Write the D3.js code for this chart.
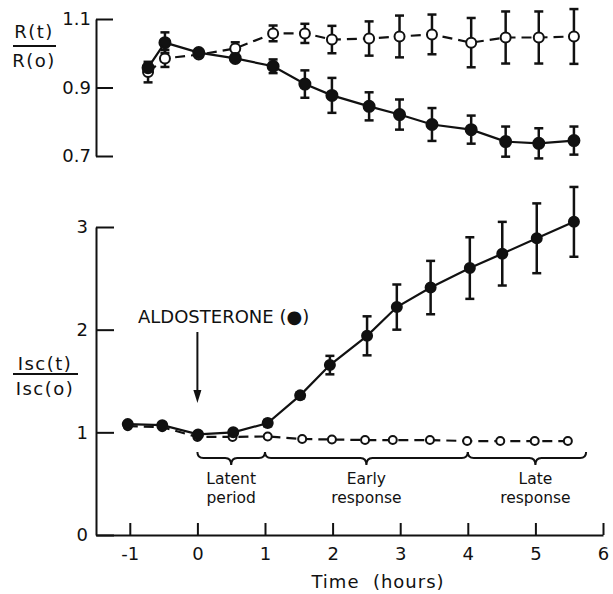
<!DOCTYPE html>
<html>
<head>
<meta charset="utf-8">
<script src="https://cdn.jsdelivr.net/npm/d3@7"></script>
<style>
body { margin: 0; background: #fff; }
svg text { font-family: "DejaVu Sans", sans-serif; fill: #111; }
</style>
</head>
<body>
<svg id="chart"></svg>
<script>
// values, time in hours
var topTimes   = [-0.73, -0.48, 0.02, 0.56, 1.12, 1.59, 1.99, 2.54, 2.99, 3.47, 4.05, 4.56, 5.05, 5.57];
var topAldo    = [0.958, 1.031, 1.002, 0.985, 0.962, 0.910, 0.877, 0.845, 0.821, 0.792, 0.777, 0.742, 0.737, 0.745];
var topAldoErr = [0.012, 0.030, 0.010, 0.010, 0.020, 0.040, 0.051, 0.041, 0.044, 0.048, 0.041, 0.044, 0.044, 0.041];
var topCtrl    = [0.945, 0.985, 0.996, 1.014, 1.058, 1.058, 1.040, 1.043, 1.049, 1.055, 1.031, 1.046, 1.046, 1.049];
var topCtrlErr = [0.030, 0.025, 0.010, 0.018, 0.023, 0.028, 0.040, 0.050, 0.061, 0.058, 0.072, 0.076, 0.076, 0.080];

var botAldoTimes = [-1.03, -0.52, 0.01, 0.53, 1.04, 1.52, 1.96, 2.51, 2.95, 3.45, 4.03, 4.51, 5.02, 5.57];
var botAldo      = [1.08, 1.07, 0.98, 1.00, 1.09, 1.36, 1.655, 1.94, 2.22, 2.41, 2.60, 2.74, 2.89, 3.05];
var botAldoErr   = [0.02, 0.02, 0.02, 0.02, 0.03, 0.03, 0.09, 0.19, 0.22, 0.26, 0.30, 0.31, 0.34, 0.34];
var botCtrlTimes = [-1.03, -0.52, 0.0, 0.52, 1.04, 1.55, 1.99, 2.48, 2.89, 3.44, 3.99, 4.48, 4.99, 5.48];
var botCtrl      = [1.06, 1.05, 0.955, 0.955, 0.96, 0.935, 0.93, 0.925, 0.925, 0.925, 0.915, 0.915, 0.915, 0.915];

var xTicks   = [-1, 0, 1, 2, 3, 4, 5, 6];
var topTicks = [0.7, 0.9, 1.1];
var botTicks = [0, 1, 2, 3];

// response phases drawn as braces under the curves
var phaseStart = [0, 1, 4];
var phaseEnd   = [1, 4, 5.75];
var phaseTip   = [0.5, 2.5, 5];
var phaseWord1 = ["Latent", "Early", "Late"];
var phaseWord2 = ["period", "response", "response"];
var aldoTime = 0;

var w = 613, h = 594;
var svg = d3.select("#chart").attr("width", w).attr("height", h);

var x = d3.scaleLinear().domain([-1.5, 6]).range([96, 603]);
var yTop = d3.scaleLinear().domain([0.7, 1.1]).range([156, 19]);
var yBot = d3.scaleLinear().domain([0, 3]).range([535, 227]);

function zip(xs, ys, es) {
	return xs.map(function(t, i) { return [t, ys[i], es ? es[i] : 0]; });
}

// axes
function styleAxis(g) {
	g.select(".domain").attr("stroke", "#111").attr("stroke-width", 2);
	g.selectAll(".tick line").attr("stroke", "#111").attr("stroke-width", 2);
	g.selectAll(".tick text").attr("font-size", 18).attr("fill", "#111")
	 .attr("font-family", "DejaVu Sans, sans-serif");
}

svg.append("g")
   .attr("transform", "translate(96,0)")
   .call(d3.axisLeft(yTop).tickValues(topTicks).tickSizeInner(-17).tickSizeOuter(0)
           .tickPadding(5).tickFormat(d3.format(".1f")))
   .call(styleAxis);

svg.append("g")
   .attr("transform", "translate(96,0)")
   .call(d3.axisLeft(yBot).tickValues(botTicks).tickSizeInner(-18).tickSizeOuter(0)
           .tickPadding(8).tickFormat(d3.format("d")))
   .call(styleAxis);

// plain hyphen for negative hours, as in the print
svg.append("g")
   .attr("transform", "translate(0,535)")
   .call(d3.axisBottom(x).tickValues(xTicks).tickSizeInner(-12).tickSizeOuter(0)
           .tickPadding(12).tickFormat(function(d) { return String(d); }))
   .call(styleAxis);

// axis titles
svg.append("text").attr("x", 34).attr("y", 38).attr("text-anchor", "middle")
   .attr("font-size", 18).attr("letter-spacing", 1.5).text("R(t)");
svg.append("line").attr("x1", 13).attr("x2", 56).attr("y1", 46).attr("y2", 46)
   .attr("stroke", "#111").attr("stroke-width", 1.8);
svg.append("text").attr("x", 34).attr("y", 67).attr("text-anchor", "middle")
   .attr("font-size", 18).attr("letter-spacing", 1.5).text("R(o)");

svg.append("text").attr("x", 45).attr("y", 370).attr("text-anchor", "middle")
   .attr("font-size", 18).attr("letter-spacing", 1.5).text("Isc(t)");
svg.append("line").attr("x1", 13).attr("x2", 78).attr("y1", 374).attr("y2", 374)
   .attr("stroke", "#111").attr("stroke-width", 1.8);
svg.append("text").attr("x", 45).attr("y", 395).attr("text-anchor", "middle")
   .attr("font-size", 18).attr("letter-spacing", 1.5).text("Isc(o)");

svg.append("text").attr("x", 378).attr("y", 588).attr("text-anchor", "middle")
   .attr("font-size", 18).attr("letter-spacing", 1).attr("xml:space", "preserve")
   .text("Time  (hours)");

// one series: line, error bars, markers
function drawSeries(pts, yScale, filled, dashed, r) {
	var line = d3.line()
				 .x(function(d) { return x(d[0]); })
				 .y(function(d) { return yScale(d[1]); });
	svg.append("path")
	   .datum(pts)
	   .attr("d", line)
	   .attr("fill", "none")
	   .attr("stroke", "#111")
	   .attr("stroke-width", 2.2)
	   .attr("stroke-dasharray", dashed ? "10,6" : null);

	var bars = svg.append("g").selectAll("g")
				  .data(pts.filter(function(d) { return d[2] > 0.015; }))
				  .enter()
				  .append("g")
				  .attr("stroke", "#111")
				  .attr("stroke-width", 2.5);
	bars.append("line")
		.attr("x1", function(d) { return x(d[0]); })
		.attr("x2", function(d) { return x(d[0]); })
		.attr("y1", function(d) { return yScale(d[1] - d[2]); })
		.attr("y2", function(d) { return yScale(d[1] + d[2]); });
	[-1, 1].forEach(function(s) {
		bars.append("line")
			.attr("x1", function(d) { return x(d[0]) - 4.5; })
			.attr("x2", function(d) { return x(d[0]) + 4.5; })
			.attr("y1", function(d) { return yScale(d[1] + s * d[2]); })
			.attr("y2", function(d) { return yScale(d[1] + s * d[2]); });
	});

	svg.append("g").selectAll("circle")
	   .data(pts)
	   .enter()
	   .append("circle")
	   .attr("cx", function(d) { return x(d[0]); })
	   .attr("cy", function(d) { return yScale(d[1]); })
	   .attr("r", r)
	   .attr("fill", filled ? "#111" : "#fff")
	   .attr("stroke", "#111")
	   .attr("stroke-width", 2);
}

drawSeries(zip(topTimes, topCtrl, topCtrlErr), yTop, false, true, 5);
drawSeries(zip(topTimes, topAldo, topAldoErr), yTop, true, false, 5.5);
drawSeries(zip(botCtrlTimes, botCtrl), yBot, false, true, 4);
drawSeries(zip(botAldoTimes, botAldo, botAldoErr), yBot, true, false, 5);

// aldosterone arrow
svg.append("text").attr("x", 138).attr("y", 323)
   .attr("font-size", 18).text("ALDOSTERONE (\u25CF)");
svg.append("line")
   .attr("x1", x(aldoTime)).attr("x2", x(aldoTime))
   .attr("y1", 332).attr("y2", 392)
   .attr("stroke", "#111").attr("stroke-width", 2);
svg.append("path")
   .attr("d", "M" + (x(aldoTime) - 4) + ",390 L" + (x(aldoTime) + 4) + ",390 L" + x(aldoTime) + ",403 Z")
   .attr("fill", "#111");

// braces and phase labels
var y0 = 452, y1 = 458, yt = 465, rr = 6;
phaseStart.forEach(function(s, i) {
	var a = x(s), b = x(phaseEnd[i]), t = x(phaseTip[i]);
	var p = "M" + a + "," + y0 +
			" Q" + a + "," + y1 + " " + (a + rr) + "," + y1 +
			" L" + (t - rr) + "," + y1 +
			" Q" + t + "," + y1 + " " + t + "," + yt +
			" Q" + t + "," + y1 + " " + (t + rr) + "," + y1 +
			" L" + (b - rr) + "," + y1 +
			" Q" + b + "," + y1 + " " + b + "," + y0;
	svg.append("path").attr("d", p).attr("fill", "none")
	   .attr("stroke", "#111").attr("stroke-width", 2);
	svg.append("text").attr("x", t).attr("y", 484).attr("text-anchor", "middle")
	   .attr("font-size", 15.5).text(phaseWord1[i]);
	svg.append("text").attr("x", t).attr("y", 503).attr("text-anchor", "middle")
	   .attr("font-size", 15.5).text(phaseWord2[i]);
});
</script>
</body>
</html>
